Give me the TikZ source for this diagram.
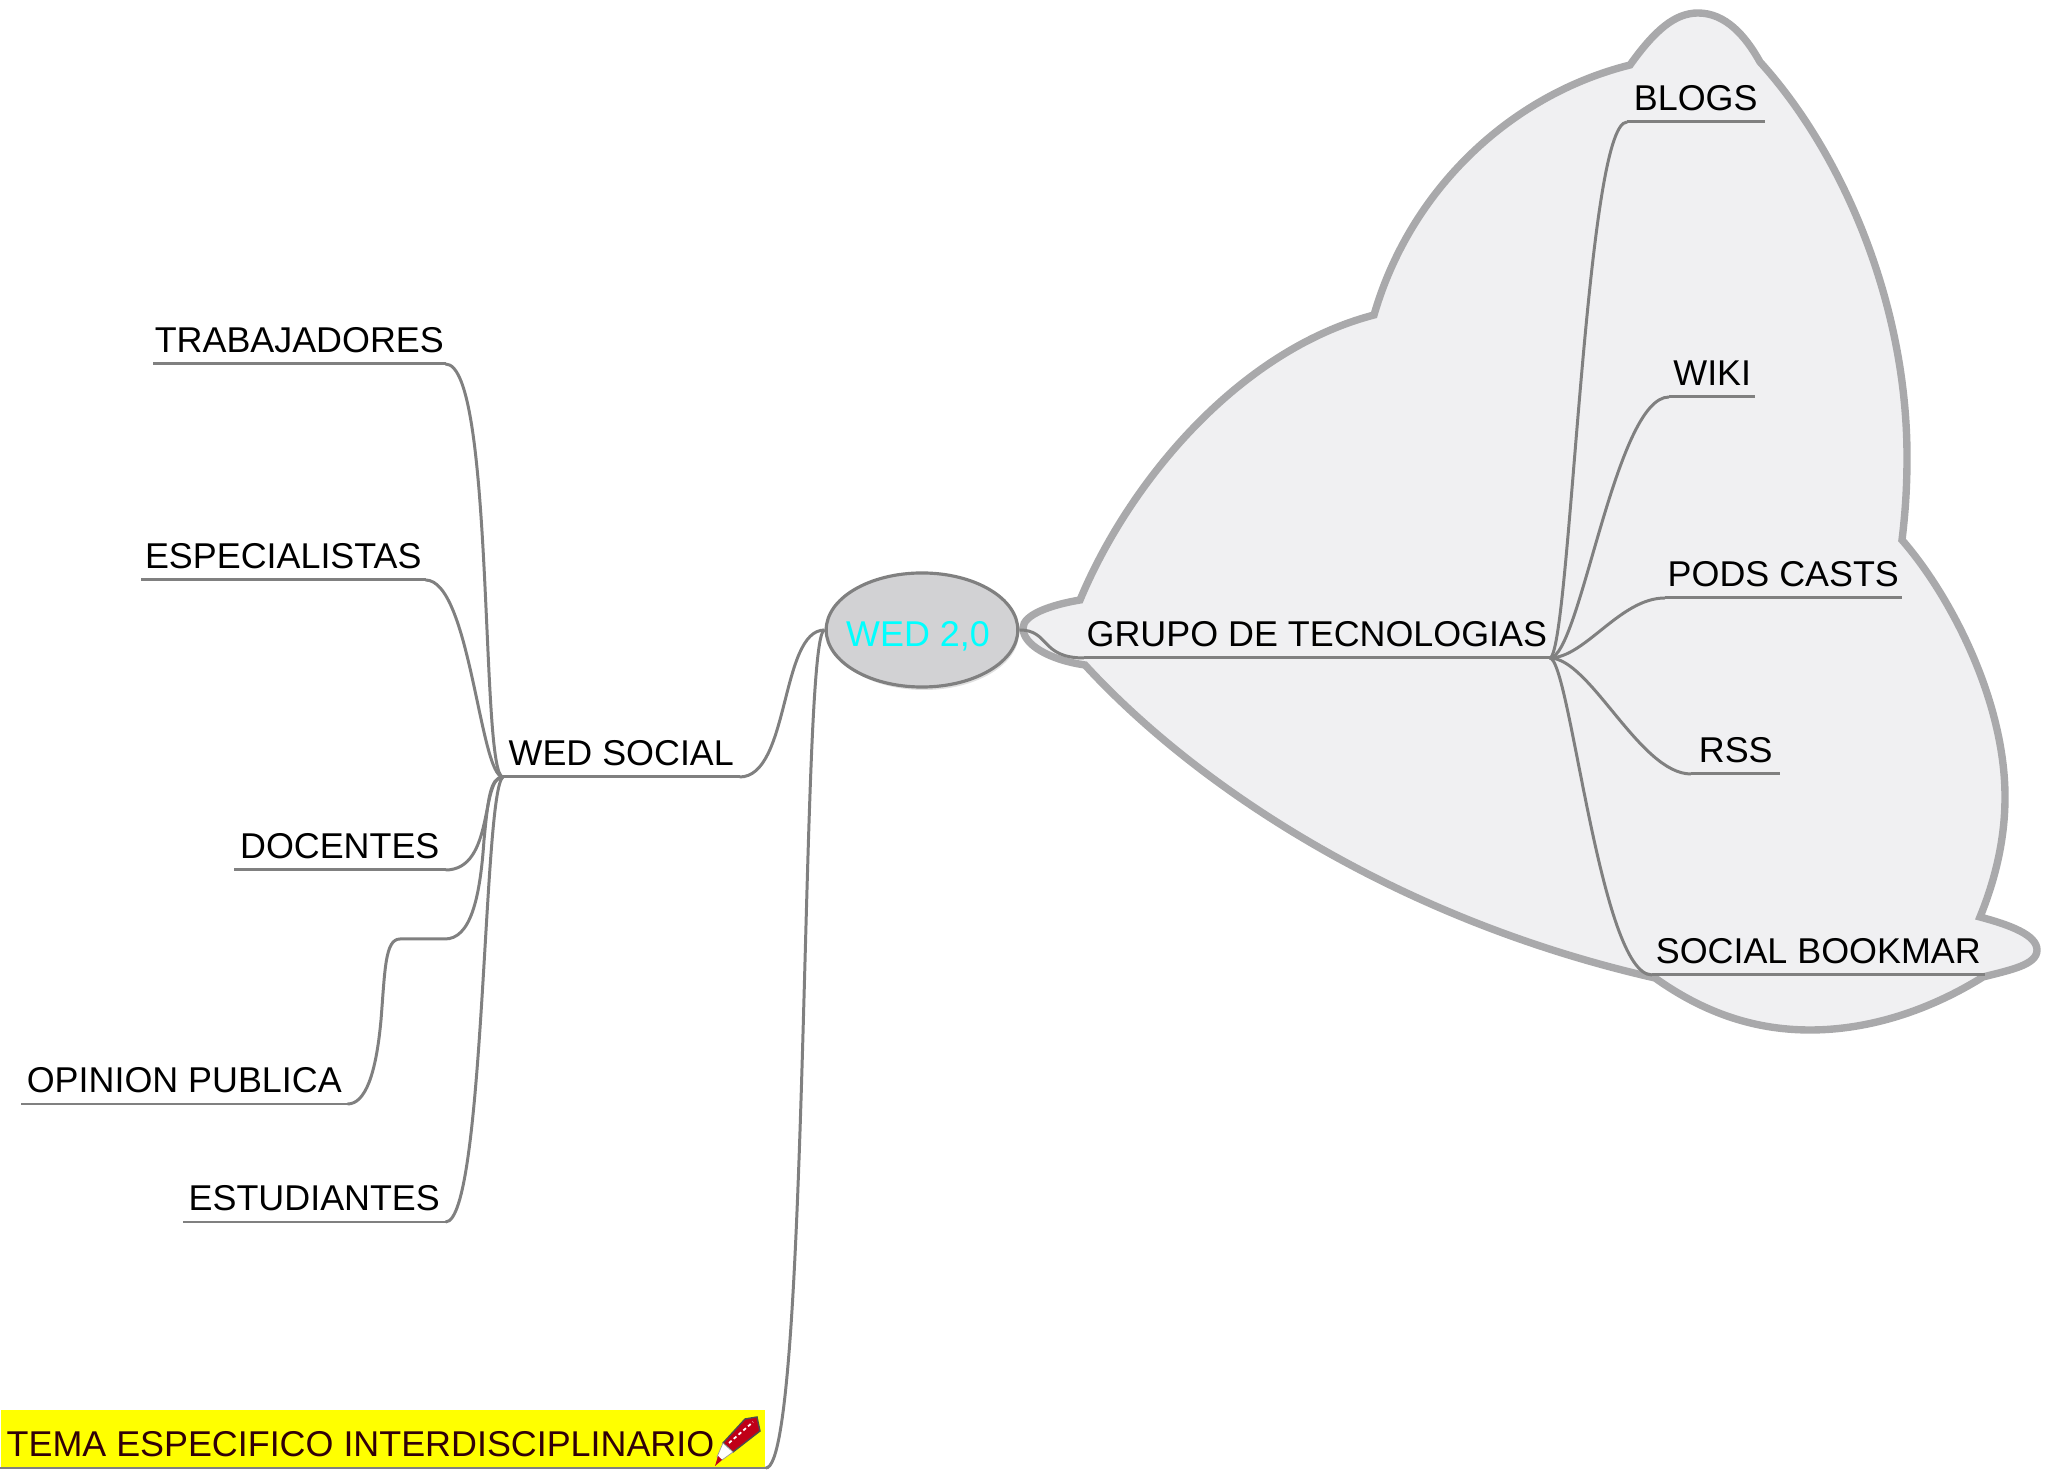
\documentclass[tikz,border=0pt]{standalone}
\usepackage{fontspec}
\setmainfont{Liberation Sans}
\usepackage{xcolor}
\usetikzlibrary{positioning,shapes.geometric}
\definecolor{branch}{HTML}{808080}
\definecolor{cloudline}{HTML}{A9A9AB}
\definecolor{cloudfill}{HTML}{F0F0F2}
\definecolor{hubfill}{HTML}{D2D2D4}
\definecolor{hubtext}{HTML}{00FFFF}
\definecolor{stripfill}{HTML}{FFFF00}
\definecolor{inkred}{HTML}{300008}
\definecolor{pencilred}{HTML}{C00018}
\tikzset{
  leaf/.style={inner xsep=0pt, inner ysep=0.11cm, text depth=0pt, anchor=south west, text=black},
  branchline/.style={branch, line width=0.85pt},
}

\begin{document}
\begin{tikzpicture}[x=0.01cm, y=-0.01cm, font=\fontsize{10.2}{12}\selectfont]
        \useasboundingbox (0,0) rectangle (2048,1471);
        % the cloud behind the technology group
        \draw[cloudline, fill=cloudfill, line width=2.1pt]
          (1080,600) .. controls (1130,480) and (1240,350) .. (1374,315)
          .. controls (1410,190) and (1510,95) .. (1630,65)
          .. controls (1655,30) and (1675,13) .. (1698,13)
          .. controls (1725,13) and (1745,35) .. (1760,62)
          .. controls (1840,150) and (1907,300) .. (1907,457)
          .. controls (1907,490) and (1905,515) .. (1902,540)
          .. controls (1950,595) and (2005,700) .. (2005,797)
          .. controls (2005,840) and (1995,880) .. (1980,917)
          .. controls (2010,925) and (2037,935) .. (2037,950)
          .. controls (2037,965) and (2010,970) .. (1983,977)
          .. controls (1930,1010) and (1870,1030) .. (1810,1030)
          .. controls (1750,1030) and (1700,1010) .. (1655,978)
          .. controls (1400,920) and (1200,790) .. (1085,665)
          .. controls (1050,660) and (1023,645) .. (1023,628)
          .. controls (1023,615) and (1050,605) .. cycle;
        % centre
        \fill[black!12] (924,633) ellipse [x radius=95, y radius=57];
        \node[ellipse, draw=branch, fill=hubfill, line width=0.9pt, inner xsep=-0.08cm, inner ysep=0pt, text depth=0pt, minimum width=1.90cm, minimum height=1.14cm, text=hubtext] (hub) at (922,630) {\raisebox{-0.08cm}{WED 2,0\kern0.08cm}};
        % left side
        \node[leaf, minimum width=2.91cm] (trabajadores) at (153,364) {TRABAJADORES};
        \node[leaf, minimum width=2.83cm] (especialistas) at (141,580) {ESPECIALISTAS};
        \node[leaf, minimum width=2.10cm] (docentes) at (234,870) {DOCENTES};
        \node[leaf, minimum width=3.25cm] (opinion) at (21,1104) {OPINION PUBLICA};
        \node[leaf, minimum width=2.61cm] (estudiantes) at (183,1222) {ESTUDIANTES};
        \node[leaf, minimum width=2.35cm] (social) at (503,777) {WED SOCIAL};
        % yellow strip with the pencil
        \node[anchor=south west, fill=stripfill, text width=7.52cm, minimum height=0.57cm, inner xsep=0.06cm, inner ysep=0pt, text height=0.35cm, text depth=0pt, align=flush left, text=inkred] (tema) at (0,1468) {TEMA ESPECIFICO INTERDISCIPLINARIO};
        \draw[black!70, fill=pencilred, line width=0.4pt] (723,1443) -- (745,1419) -- (757,1417) -- (760,1431) -- (733,1452) -- cycle;
        \draw[white, line width=0.5pt, dash pattern=on 1pt off 0.8pt] (729,1443) -- (753,1422);
        \draw[black!40, fill=white, line width=0.2pt] (723,1443) -- (733,1452) -- (722,1460) -- (717,1457) -- cycle;
        \fill[pencilred] (718,1456) -- (722,1460) -- (715,1466) -- cycle;
        % right side
        \node[leaf, minimum width=4.64cm] (grupo) at (1084,658) {GRUPO DE TECNOLOGIAS};
        \node[leaf, minimum width=1.36cm] (blogs) at (1627,122) {BLOGS};
        \node[leaf, minimum width=0.85cm] (wiki) at (1669,397) {WIKI};
        \node[leaf, minimum width=2.35cm] (pods) at (1665,598) {PODS CASTS};
        \node[leaf, minimum width=0.88cm] (rss) at (1691,774) {RSS};
        \node[leaf, minimum width=3.31cm] (bookmar) at (1652,975) {SOCIAL BOOKMAR};
        % underlines
        \foreach \n in {trabajadores,especialistas,docentes,opinion,estudiantes,social,tema,grupo,blogs,wiki,pods,rss,bookmar} {
          \draw[branchline] (\n.south west) -- (\n.south east);
        }
        % connectors
        \draw[branchline] (trabajadores.south east) .. controls (495,364) and (480,777) .. (social.south west);
        \draw[branchline] (especialistas.south east) .. controls (470,580) and (480,777) .. (social.south west);
        \draw[branchline] (docentes.south east) .. controls (495,870) and (480,777) .. (social.south west);
        \draw[branchline] (opinion.south east) .. controls (365,1104) and (376,1075) .. (381,1020)
          .. controls (385,970) and (385,939) .. (400,939) -- (445,939)
          .. controls (470,939) and (480,900) .. (484,840)
          .. controls (488,800) and (490,777) .. (social.south west);
        \draw[branchline] (estudiantes.south east) .. controls (485,1222) and (483,790) .. (social.south west);
        \draw[branchline] (social.south east) .. controls (790,777) and (780,630) .. (hub.west);
        \draw[branchline] (tema.south east) .. controls (810,1468) and (800,630) .. (hub.west);
        \draw[branchline] (hub.east) .. controls (1050,630) and (1040,658) .. (grupo.south west);
        \draw[branchline] (grupo.south east) .. controls (1570,658) and (1585,122) .. (blogs.south west);
        \draw[branchline] (grupo.south east) .. controls (1580,658) and (1615,397) .. (wiki.south west);
        \draw[branchline] (grupo.south east) .. controls (1585,658) and (1620,598) .. (pods.south west);
        \draw[branchline] (grupo.south east) .. controls (1590,658) and (1640,774) .. (rss.south west);
        \draw[branchline] (grupo.south east) .. controls (1570,658) and (1600,975) .. (bookmar.south west);
      \end{tikzpicture}
\end{document}
